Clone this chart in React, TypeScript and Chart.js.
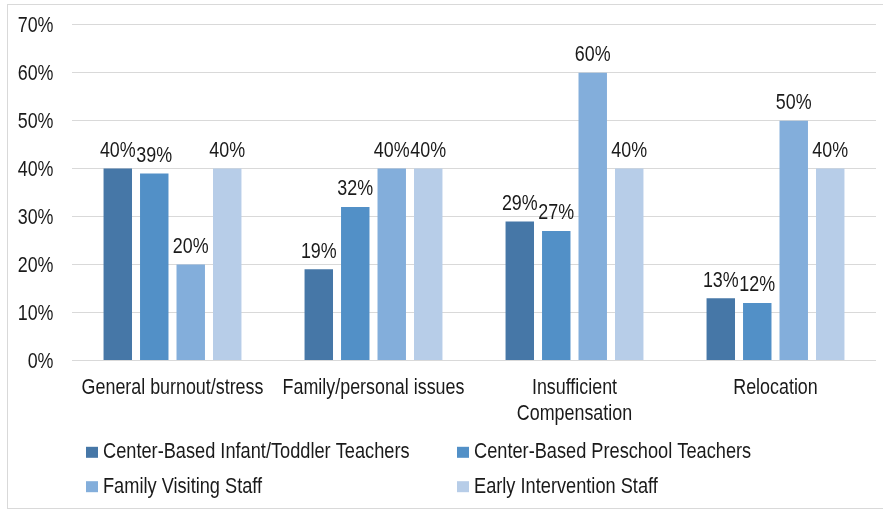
import React, { useEffect, useRef } from "react";
import { Chart, registerables } from "chart.js";

Chart.register(...registerables);

const categories: string[][] = [
  ["General burnout/stress"],
  ["Family/personal issues"],
  ["Insufficient", "Compensation"],
  ["Relocation"],
];
const seriesNames = [
  "Center-Based Infant/Toddler Teachers",
  "Center-Based Preschool Teachers",
  "Family Visiting Staff",
  "Early Intervention Staff",
];
const infantToddler = [40, 19, 29, 13];
const preschool = [39, 32, 27, 12];
const familyVisiting = [20, 40, 60, 50];
const earlyIntervention = [40, 40, 40, 40];
const seriesColors = ["#4677A7", "#5290C7", "#83AEDB", "#B7CDE8"];
const yTicks = [0, 10, 20, 30, 40, 50, 60, 70];

const FONT = '"Liberation Sans", Arial, sans-serif';
const FONT_SIZE = 21.8;
const NARROW = 0.82;
const TEXT = "#1a1a1a";

function narrowText(
  ctx: CanvasRenderingContext2D,
  text: string,
  x: number,
  y: number,
  align: CanvasTextAlign,
  squeeze: number = NARROW
) {
  ctx.save();
  ctx.font = `${FONT_SIZE}px ${FONT}`;
  ctx.fillStyle = TEXT;
  ctx.textAlign = align;
  ctx.textBaseline = "alphabetic";
  ctx.translate(x, y);
  ctx.scale(squeeze, 1);
  ctx.fillText(text, 0, 0);
  ctx.restore();
}

const frame = {
  id: "frame",
  beforeDraw(chart: any) {
    const ctx = chart.ctx;
    ctx.save();
    ctx.strokeStyle = "#d9d9d9";
    ctx.lineWidth = 1;
    ctx.strokeRect(7.5, 4.5, 900, 504);
    ctx.restore();
  },
};

const axisText = {
  id: "axisText",
  afterDraw(chart: any) {
    const ctx = chart.ctx;
    const xs = chart.scales.x;
    const ys = chart.scales.y;
    yTicks.forEach((v) => {
      narrowText(ctx, `${v}%`, 53.5, ys.getPixelForValue(v) + 7.7, "right");
    });
    categories.forEach((lines, i) => {
      const cx = xs.getPixelForValue(i);
      lines.forEach((line, k) => {
        narrowText(ctx, line, cx, 393.5 + k * 26, "center");
      });
    });
  },
};

const valueLabels = {
  id: "valueLabels",
  afterDatasetsDraw(chart: any) {
    const ctx = chart.ctx;
    chart.data.datasets.forEach((ds: any, i: number) => {
      const meta = chart.getDatasetMeta(i);
      meta.data.forEach((bar: any, j: number) => {
        narrowText(ctx, `${ds.data[j]}%`, bar.x, bar.y - 11.5, "center");
      });
    });
  },
};

const gridLegend = {
  id: "gridLegend",
  afterDraw(chart: any) {
    const ctx = chart.ctx;
    const cols = [86, 457];
    const rows = [458.3, 492.7];
    chart.data.datasets.forEach((ds: any, i: number) => {
      const x = cols[i % 2];
      const y = rows[Math.floor(i / 2)];
      ctx.save();
      ctx.fillStyle = ds.backgroundColor;
      ctx.fillRect(x, y - 11.5, 12, 11);
      ctx.restore();
      narrowText(ctx, ds.label, x + 17, y, "left", 0.835);
    });
  },
};

export default function App() {
  const ref = useRef<HTMLCanvasElement>(null);
  useEffect(() => {
    document.body.style.margin = "0";
    const seriesData = [infantToddler, preschool, familyVisiting, earlyIntervention];
    const chart = new Chart(ref.current!, {
      type: "bar",
      data: {
        labels: categories.map((c) => c.join(" ")),
        datasets: seriesData.map((d, i) => ({
          label: seriesNames[i],
          data: d,
          backgroundColor: seriesColors[i],
          borderWidth: 0,
          categoryPercentage: 0.726,
          barPercentage: 0.78,
        })),
      },
      options: {
        animation: false,
        responsive: false,
        maintainAspectRatio: false,
        layout: { padding: { top: 24.7, right: 7, bottom: 79.5, left: 0 } },
        plugins: { legend: { display: false }, tooltip: { enabled: false } },
        scales: {
          x: {
            grid: { display: false, drawTicks: false },
            border: { display: false },
            ticks: { display: false },
            afterFit(scale: any) {
              scale.height = 70;
            },
          },
          y: {
            min: 0,
            max: 70,
            afterBuildTicks(scale: any) {
              scale.ticks = yTicks.map((v) => ({ value: v }));
            },
            grid: { color: "#d9d9d9", lineWidth: 1, drawTicks: false },
            border: { display: false },
            ticks: { display: false },
            afterFit(scale: any) {
              scale.width = 72;
            },
          },
        },
      },
      plugins: [frame, axisText, valueLabels, gridLegend],
    });
    return () => chart.destroy();
  }, []);
  return <canvas ref={ref} width={883} height={510} style={{ display: "block" }} />;
}
